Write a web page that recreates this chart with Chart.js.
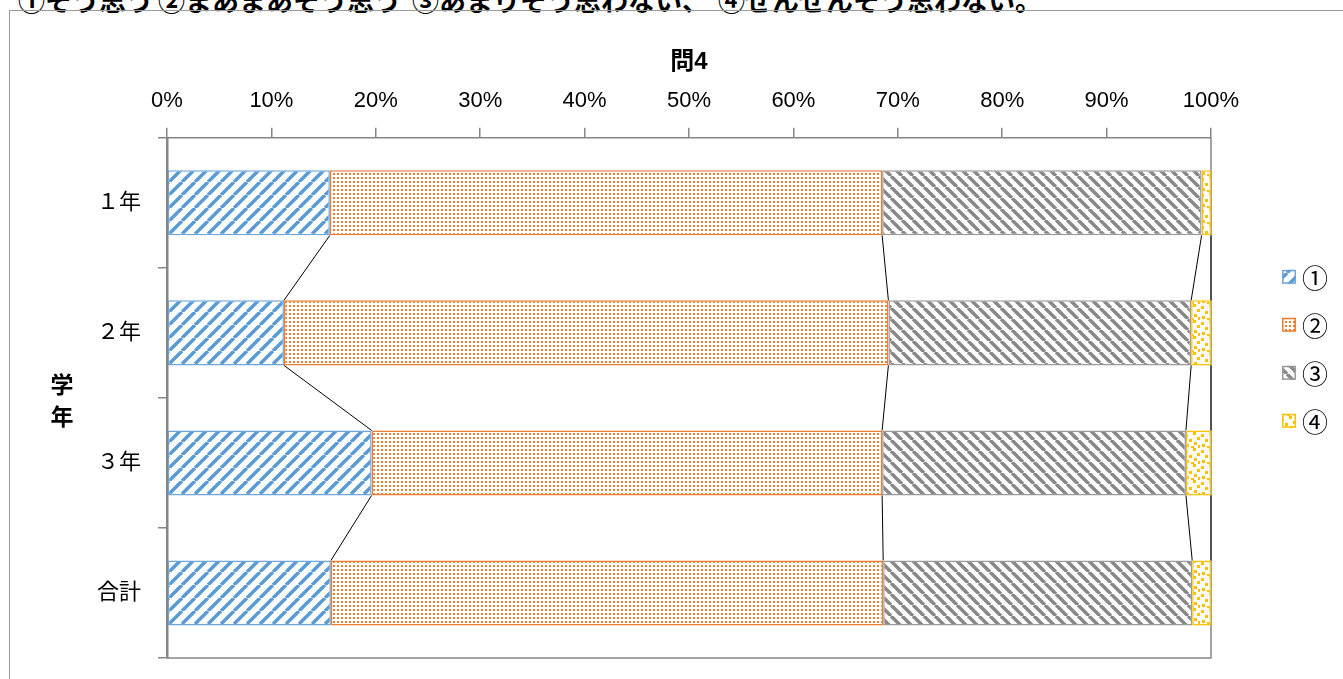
<!DOCTYPE html>
<html lang="ja">
<head>
<meta charset="utf-8">
<title>問4</title>
<script src="https://cdn.jsdelivr.net/npm/chart.js@4.4.1/dist/chart.umd.min.js"></script>
<style>
html, body { margin: 0; padding: 0; background: #fff; overflow: hidden; }
body { width: 1343px; height: 679px; position: relative; }
#note { position: absolute; top: -14px; left: 0; height: 27px; font: bold 27px 'Noto Sans CJK JP', sans-serif; line-height: 27px; white-space: nowrap; color: #000; }
#note span { position: absolute; top: 0; }
#frame { position: absolute; left: 9px; top: 10px; width: 1400px; height: 700px; border-left: 1px solid #9a9a9a; border-top: 1px solid #9a9a9a; }
#chart { position: absolute; left: 0; top: 0; }
</style>
</head>
<body>
<div id="note">
  <span style="left:18px">①そう思う</span>
  <span style="left:158px">②まあまあそう思う</span>
  <span style="left:412px">③あまりそう思わない、</span>
  <span style="left:718px">④ぜんぜんそう思わない。</span>
</div>
<div id="frame"></div>
<canvas id="chart" width="1343" height="679"></canvas>
<script>
// data
const categories = ['１年', '２年', '３年', '合計'];
const seriesNames = ['①', '②', '③', '④'];
const answer1 = [15.6, 11.2, 19.6, 15.7];
const answer2 = [52.9, 57.9, 48.9, 52.9];
const answer3 = [30.6, 29.0, 29.1, 29.6];
const answer4 = [0.9, 1.9, 2.4, 1.8];
const xTickLabels = ['0%', '10%', '20%', '30%', '40%', '50%', '60%', '70%', '80%', '90%', '100%'];

const FONT = "'Liberation Sans', 'Noto Sans CJK JP', sans-serif";
const AXIS = '#868686';

function tile(size) {
    const c = document.createElement('canvas');
    c.width = c.height = size;
    const g = c.getContext('2d');
    g.fillStyle = '#fff';
    g.fillRect(0, 0, size, size);
    return [c, g];
}

// wide diagonal stripes, up = lower-left to upper-right
function stripes(color, size, width, up) {
    const [c, g] = tile(size);
    g.strokeStyle = color;
    g.lineWidth = width;
    g.beginPath();
    for (let x0 = -size; x0 <= size; x0 += size) {
        if (up) {
            g.moveTo(x0, size);
            g.lineTo(x0 + size, 0);
        } else {
            g.moveTo(x0, 0);
            g.lineTo(x0 + size, size);
        }
    }
    g.stroke();
    return g.createPattern(c, 'repeat');
}

function dots(color) {
    const [c, g] = tile(4);
    g.fillStyle = color;
    g.fillRect(1, 1, 2, 2);
    return g.createPattern(c, 'repeat');
}

function confetti(color) {
    const [c, g] = tile(16);
    g.fillStyle = color;
    [[1, 2], [9, 0], [5, 7], [13, 5], [2, 12], [10, 10], [7, 14], [14, 13]].forEach(p => g.fillRect(p[0], p[1], 3, 3));
    return g.createPattern(c, 'repeat');
}

const fills = [
    stripes('#5B9BD5', 13, 3.5, true),
    dots('#ED7D31'),
    stripes('#888888', 11, 3.5, false),
    confetti('#FFC000')
];
const borders = ['#6FA6DA', '#ED7D31', '#9A9A9A', '#FFC000'];
const values = [answer1, answer2, answer3, answer4];

// Excel style series lines between the bars
const seriesLines = {
    id: 'seriesLines',
    afterDatasetsDraw(chart) {
        const ctx = chart.ctx;
        ctx.save();
        ctx.strokeStyle = '#000';
        ctx.lineWidth = 1;
        chart.data.datasets.forEach((ds, d) => {
            const bars = chart.getDatasetMeta(d).data;
            for (let i = 0; i < bars.length - 1; i++) {
                const a = bars[i], b = bars[i + 1];
                ctx.beginPath();
                ctx.moveTo(a.x, a.y + a.height / 2);
                ctx.lineTo(b.x, b.y - b.height / 2);
                ctx.stroke();
            }
        });
        ctx.restore();
    }
};

// right and bottom edges of the plot frame
const plotFrame = {
    id: 'plotFrame',
    beforeDatasetsDraw(chart) {
        const { ctx, chartArea: a } = chart;
        ctx.save();
        ctx.strokeStyle = AXIS;
        ctx.lineWidth = 1.5;
        ctx.beginPath();
        ctx.moveTo(a.right, a.top);
        ctx.lineTo(a.right, a.bottom);
        ctx.lineTo(a.left, a.bottom);
        ctx.stroke();
        ctx.restore();
    }
};

// stacked y title and the legend on the right
const extras = {
    id: 'extras',
    afterDraw(chart) {
        const { ctx, chartArea: a } = chart;
        ctx.save();
        ctx.fillStyle = '#000';
        ctx.textAlign = 'center';
        ctx.textBaseline = 'middle';
        ctx.font = "bold 23px 'Noto Sans CJK JP', sans-serif";
        const cy = (a.top + a.bottom) / 2;
        ctx.fillText('学', 62, cy - 14);
        ctx.fillText('年', 62, cy + 18);

        ctx.textAlign = 'left';
        ctx.font = "26px 'Noto Sans CJK JP', sans-serif";
        chart.data.datasets.forEach((ds, i) => {
            const y = a.top + 139 + i * 48;
            const x = a.right + 71;
            ctx.fillStyle = ds.backgroundColor;
            ctx.fillRect(x, y - 7, 14, 14);
            ctx.strokeStyle = ds.borderColor;
            ctx.lineWidth = 1.5;
            ctx.strokeRect(x + 0.75, y - 6.25, 12.5, 12.5);
            ctx.fillStyle = '#000';
            ctx.fillText(ds.label, x + 20, y + 1);
        });
        ctx.restore();
    }
};

Chart.defaults.font.family = FONT;
Chart.defaults.color = '#000';

new Chart(document.getElementById('chart').getContext('2d'), {
    type: 'bar',
    data: {
        labels: categories,
        datasets: seriesNames.map((name, i) => ({
            label: name,
            data: values[i],
            backgroundColor: fills[i],
            borderColor: borders[i],
            borderWidth: 1.5,
            borderSkipped: false,
            categoryPercentage: 1,
            barPercentage: 0.5
        }))
    },
    options: {
        indexAxis: 'y',
        responsive: false,
        animation: false,
        devicePixelRatio: 1,
        layout: { padding: { left: 10, right: 132, top: 48, bottom: 21 } },
        plugins: {
            legend: { display: false },
            tooltip: { enabled: false },
            title: {
                display: true,
                text: '問4',
                fullSize: false,
                font: { size: 24, weight: 'bold' },
                color: '#000',
                padding: 0
            }
        },
        scales: {
            x: {
                position: 'top',
                stacked: true,
                min: 0,
                max: 100,
                ticks: {
                    stepSize: 10,
                    font: { size: 22 },
                    padding: 14,
                    color: '#000',
                    callback: (v, i) => xTickLabels[i]
                },
                grid: { drawOnChartArea: false, tickLength: 10, color: AXIS, lineWidth: 1.5 },
                border: { color: AXIS, width: 1.5 },
                afterFit: s => { s.height = 61; }
            },
            y: {
                stacked: true,
                ticks: { font: { size: 22 }, padding: 17, color: '#000' },
                grid: { offset: true, drawOnChartArea: false, tickLength: 9, color: AXIS, lineWidth: 1.5 },
                border: { color: AXIS, width: 2.5 },
                afterFit: s => {
                    s.width = 157;
                    s.paddingTop = 0;
                    s.paddingBottom = 0;
                }
            }
        }
    },
    plugins: [plotFrame, seriesLines, extras]
});
</script>
</body>
</html>
